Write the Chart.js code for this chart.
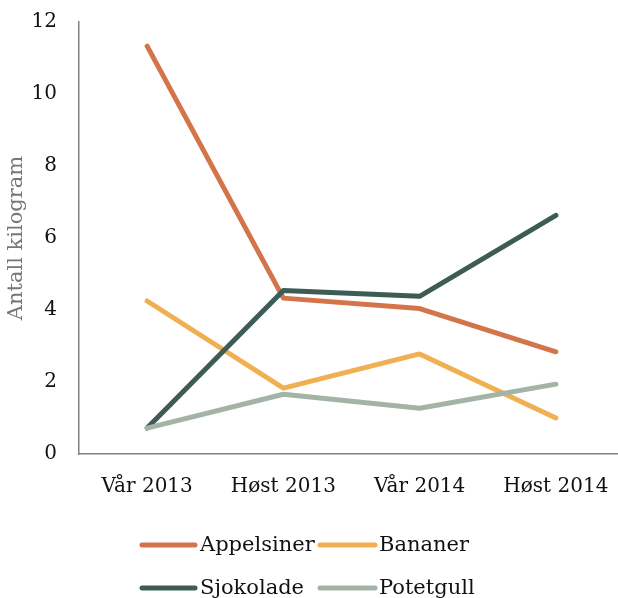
<!DOCTYPE html>
<html>
<head>
<meta charset="utf-8">
<script src="https://cdn.jsdelivr.net/npm/chart.js@4/dist/chart.umd.min.js"></script>
<style>
html,body{margin:0;padding:0;background:#fff;overflow:hidden;}
#wrap{width:624px;height:598px;position:relative;}
</style>
</head>
<body>
<div id="wrap"><canvas id="c" width="624" height="598"></canvas></div>
<script>
const categories = ["Vår 2013", "Høst 2013", "Vår 2014", "Høst 2014"];
const appelsiner = [11.33, 4.33, 4.04, 2.84];
const bananer    = [4.25, 1.83, 2.78, 1.0];
const sjokolade  = [0.72, 4.54, 4.38, 6.63];
const potetgull  = [0.72, 1.66, 1.27, 1.94];
const seriesNames = ["Appelsiner", "Bananer", "Sjokolade", "Potetgull"];
const seriesColors = ["#D4744A", "#F0B052", "#3C5C55", "#A3B4A6"];
const yTicks = [0, 2, 4, 6, 8, 10, 12];

const FONT = "'DejaVu Serif', Georgia, serif";

const allSeries = [appelsiner, bananer, sjokolade, potetgull];
const datasets = allSeries.map((d, i) => ({
  label: seriesNames[i],
  data: d,
  borderColor: seriesColors[i],
  backgroundColor: seriesColors[i],
  borderWidth: 5,
  borderCapStyle: 'round',
  borderJoinStyle: 'round',
  pointRadius: 0,
  tension: 0,
  fill: false,
  order: 4 - i
}));

const legendPlugin = {
  id: 'customLegend',
  afterDraw(chart) {
    const ctx = chart.ctx;
    const cols = [{x0: 142, x1: 195, tx: 200}, {x0: 320, x1: 375, tx: 379}];
    const rows = [545, 588];
    ctx.save();
    ctx.font = "21px " + FONT;
    ctx.textBaseline = 'middle';
    ctx.textAlign = 'left';
    chart.data.datasets.forEach((ds, i) => {
      const c = cols[i % 2], y = rows[Math.floor(i / 2)];
      ctx.strokeStyle = ds.borderColor;
      ctx.lineWidth = 5;
      ctx.lineCap = 'round';
      ctx.beginPath();
      ctx.moveTo(c.x0, y);
      ctx.lineTo(c.x1, y);
      ctx.stroke();
      ctx.fillStyle = '#111';
      ctx.fillText(ds.label, c.tx, y + 1);
    });
    ctx.restore();
  }
};

new Chart(document.getElementById('c'), {
  type: 'line',
  data: { labels: categories, datasets: datasets },
  plugins: [legendPlugin],
  options: {
    responsive: false,
    animation: false,
    devicePixelRatio: 1,
    layout: { padding: { top: 22, left: 0, right: 0, bottom: 78 } },
    plugins: { legend: { display: false }, tooltip: { enabled: false } },
    scales: {
      x: {
        offset: true,
        afterFit(s) { s.paddingLeft = 0; s.paddingRight = 0; },
        grid: { display: false, drawTicks: false },
        border: { color: '#808080', width: 1.5 },
        ticks: { color: '#111', font: { family: FONT, size: 20 }, padding: 21, maxRotation: 0, autoSkip: false }
      },
      y: {
        min: 0, max: 12,
        afterFit(s) { s.width = 79; s.paddingTop = 0; s.paddingBottom = 0; },
        afterBuildTicks(s) { s.ticks = yTicks.map(v => ({ value: v })); },
        grid: { display: false, drawTicks: false },
        border: { color: '#808080', width: 1.5 },
        ticks: { color: '#111', font: { family: FONT, size: 20 }, padding: 22 },
        title: { display: true, text: 'Antall kilogram', color: '#777', font: { family: FONT, size: 21 }, padding: { top: 4, bottom: 0 } }
      }
    }
  }
});
</script>
</body>
</html>
